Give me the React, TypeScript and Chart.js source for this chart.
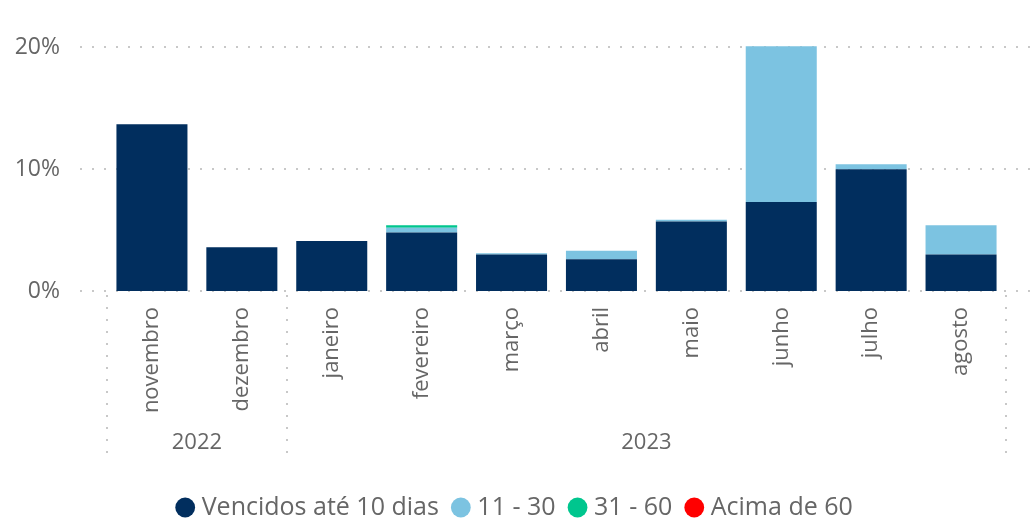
import React, { useEffect, useRef } from "react";
import { Chart, registerables } from "chart.js";

Chart.register(...registerables);

const months = ["novembro", "dezembro", "janeiro", "fevereiro", "março", "abril", "maio", "junho", "julho", "agosto"];
const yearLabels = ["2022", "2023"];
const yearStart = [0, 2];
const yearEnd = [1, 9];
const ate10 = [13.7, 3.6, 4.1, 4.8, 3.0, 2.6, 5.7, 7.3, 10.0, 3.0];
const de11a30 = [0, 0, 0, 0.4, 0.1, 0.7, 0.15, 12.8, 0.4, 2.4];
const de31a60 = [0, 0, 0, 0.2, 0, 0, 0, 0, 0, 0];
const acima60 = [0, 0, 0, 0, 0, 0, 0, 0, 0, 0];
const yTicks = [0, 10, 20];
const seriesNames = ["Vencidos até 10 dias", "11 - 30", "31 - 60", "Acima de 60"];
const seriesColors = ["#012E5E", "#7CC3E1", "#00C68E", "#FF0000"];

const FONT = "'Open Sans', 'Noto Sans', sans-serif";
const TEXT = "#666666";

const gridPlugin = {
  id: "dotGrid",
  beforeDatasetsDraw(chart: any) {
    const ctx = chart.ctx;
    const y = chart.scales.y;
    ctx.save();
    ctx.strokeStyle = "#c8c8c8";
    ctx.lineWidth = 2;
    ctx.setLineDash([2, 10]);
    yTicks.forEach((v) => {
      const py = Math.round(y.getPixelForValue(v));
      ctx.beginPath();
      ctx.moveTo(80, py);
      ctx.lineTo(chart.width - 2, py);
      ctx.stroke();
    });
    ctx.restore();
  },
};

const hierPlugin = {
  id: "hier",
  afterDraw(chart: any) {
    const ctx = chart.ctx;
    const x = chart.scales.x;
    const area = chart.chartArea;
    const w = (x.right - x.left) / months.length;
    ctx.save();
    ctx.strokeStyle = "#c8c8c8";
    ctx.lineWidth = 2;
    ctx.setLineDash([2, 10]);
    const bounds = new Set<number>();
    yearStart.forEach((s, i) => {
      bounds.add(s);
      bounds.add(yearEnd[i] + 1);
    });
    bounds.forEach((b) => {
      const px = Math.round(x.left + b * w);
      ctx.beginPath();
      ctx.moveTo(px, area.bottom + 4);
      ctx.lineTo(px, area.bottom + 172);
      ctx.stroke();
    });
    ctx.setLineDash([]);
    ctx.fillStyle = TEXT;
    ctx.font = `22px ${FONT}`;
    ctx.textAlign = "center";
    ctx.textBaseline = "middle";
    yearLabels.forEach((lab, i) => {
      const cx = x.left + ((yearStart[i] + yearEnd[i] + 1) / 2) * w;
      ctx.fillText(lab, cx, area.bottom + 152);
    });
    ctx.restore();
  },
};

export default function App() {
  const ref = useRef<HTMLCanvasElement | null>(null);
  useEffect(() => {
    if (!ref.current) return;
    const data = [ate10, de11a30, de31a60, acima60];
    const chart = new Chart(ref.current, {
      type: "bar",
      data: {
        labels: months,
        datasets: data.map((d, i) => ({
          label: seriesNames[i],
          data: d,
          backgroundColor: seriesColors[i],
          borderWidth: 0,
          categoryPercentage: 0.79,
          barPercentage: 1,
        })),
      },
      options: {
        animation: false,
        responsive: true,
        maintainAspectRatio: false,
        layout: { padding: { top: 45, right: 15, left: 14, bottom: -8 } },
        plugins: {
          tooltip: { enabled: false },
          legend: {
            position: "bottom",
            labels: {
              usePointStyle: true,
              pointStyle: "circle",
              boxWidth: 8,
              boxHeight: 14,
              padding: 18,
              color: TEXT,
              font: { family: FONT, size: 25 },
            },
          },
        },
        scales: {
          x: {
            stacked: true,
            grid: { display: false },
            border: { display: false },
            ticks: {
              autoSkip: false,
              maxRotation: 90,
              minRotation: 90,
              padding: 8,
              color: TEXT,
              font: { family: FONT, size: 22 },
            },
            afterFit(scale: any) {
              scale.height = 186;
              scale.paddingLeft = 0;
              scale.paddingRight = 0;
            },
          },
          y: {
            stacked: true,
            min: 0,
            max: 20.2,
            grid: { display: false, drawTicks: false },
            border: { display: false },
            afterBuildTicks(scale: any) {
              scale.ticks = yTicks.map((v) => ({ value: v }));
            },
            ticks: {
              padding: 47,
              color: TEXT,
              font: { family: FONT, size: 23 },
              callback: (v: any) => `${v}%`,
            },
            afterFit(scale: any) {
              scale.width = 93;
              scale.paddingTop = 0;
              scale.paddingBottom = 0;
            },
          },
          yRight: {
            position: "right",
            display: true,
            grid: { display: false, drawTicks: false },
            border: { display: false },
            ticks: { display: false },
            afterFit(scale: any) {
              scale.width = 14;
              scale.paddingTop = 0;
              scale.paddingBottom = 0;
            },
          },
        },
      },
      plugins: [gridPlugin, hierPlugin],
    });
    return () => chart.destroy();
  }, []);
  return (
    <div style={{ position: "absolute", left: 0, top: 0, width: 1035, height: 522, background: "#fff" }}>
      <canvas ref={ref} />
    </div>
  );
}
